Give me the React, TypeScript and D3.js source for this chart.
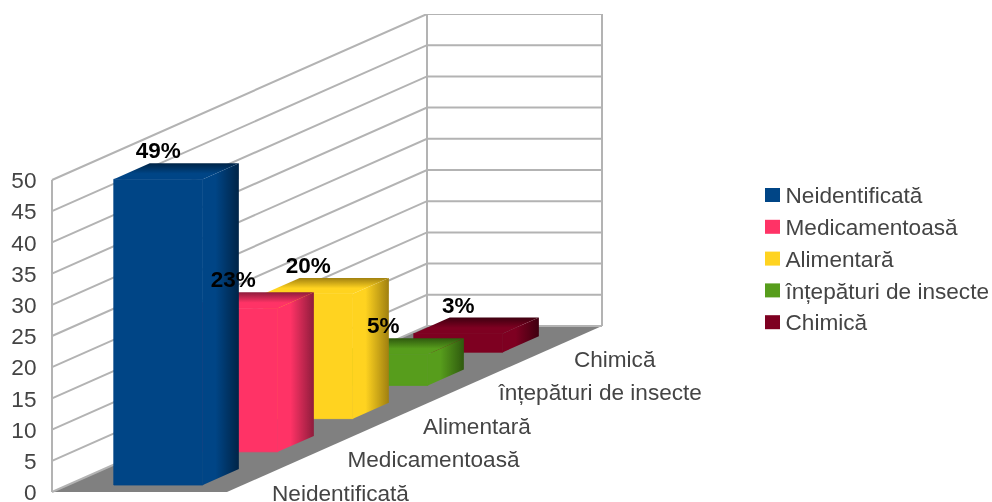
import React from "react";
import * as d3 from "d3";

const categories = ["Neidentificată", "Medicamentoasă", "Alimentară", "înțepături de insecte", "Chimică"];
const values = [49, 23, 20, 5, 3];
const valueLabels = ["49%", "23%", "20%", "5%", "3%"];
const colors = ["#004586", "#ff3366", "#ffd320", "#579d1c", "#7e0021"];
const sideDark = ["#002447", "#8f1c3c", "#a08010", "#2f5a0e", "#3f0010"];
const yTicks = [0, 5, 10, 15, 20, 25, 30, 35, 40, 45, 50];

const W = 992, H = 502;
const FONT = "'Liberation Sans', Arial, sans-serif";
const TEXT = "#444444";
const GRID = "#b3b3b3";

// Oblique projection: x across (0..1), depth (0..1), value
const originX = 52, originY = 492;
const xAcross = d3.scaleLinear().domain([0, 1]).range([0, 175]);
const depthX = d3.scaleLinear().domain([0, 1]).range([0, 375]);
const depthY = d3.scaleLinear().domain([0, 1]).range([0, -166]);
const yValue = d3.scaleLinear().domain([0, 50]).range([0, -312]);
const depthBand = d3.scaleBand<string>().domain(categories).range([-0.01, 0.99]).paddingInner(0.52).paddingOuter(0.26);
const labelDepth = d3.scalePoint<string>().domain(categories).range([0, 0.805]);
const acrossStart = 0.263, acrossEnd = 0.772;

const P = (a: number, d: number, v: number): [number, number] => [
  originX + xAcross(a) + depthX(d),
  originY + depthY(d) + yValue(v),
];
const poly = d3.line();
const path = (pts: [number, number][]) => poly(pts)! + "Z";

export default function App() {
  const order = categories.map((_, i) => i).reverse();
  return (
    <svg width={W} height={H} style={{ position: "absolute", left: 0, top: 0, background: "#fff" }} fontFamily={FONT}>
      <defs>
        <filter id="soft" x="0" y="0" width="1" height="1" filterUnits="objectBoundingBox" colorInterpolationFilters="sRGB">
          <feGaussianBlur stdDeviation="0.45" />
        </filter>
        {colors.map((c, i) => (
          <React.Fragment key={i}>
            <linearGradient id={`side${i}`} x1="0" x2="1" y1="0" y2="0">
              <stop offset="0" stopColor={c} />
              <stop offset="0.35" stopColor={c} />
              <stop offset="1" stopColor={sideDark[i]} />
            </linearGradient>
            <linearGradient id={`top${i}`} x1="0" x2="0" y1="1" y2="0">
              <stop offset="0" stopColor={c} />
              <stop offset="0.35" stopColor={c} />
              <stop offset="1" stopColor={sideDark[i]} />
            </linearGradient>
          </React.Fragment>
        ))}
      </defs>

      <rect width={W} height={H} fill="#fff" />
      <g filter="url(#soft)">
        {/* floor */}
        <path d={path([P(0, 0, 0), P(0, 1, 0), P(1, 1, 0), P(1, 0, 0)])} fill="#808080" />

        {/* walls and grid */}
        {yTicks.map((t) => (
          <path key={t} d={poly([P(0, 0, t), P(0, 1, t), P(1, 1, t)])!} fill="none" stroke={GRID} strokeWidth={2} />
        ))}
        <path d={poly([P(0, 0, 0), P(0, 0, 50)])!} stroke={GRID} strokeWidth={2} fill="none" />
        <path d={poly([P(0, 1, 0), P(0, 1, 50)])!} stroke={GRID} strokeWidth={2} fill="none" />
        <path d={poly([P(1, 1, 0), P(1, 1, 50)])!} stroke={GRID} strokeWidth={2} fill="none" />

        {/* bars back to front */}
        {order.map((i) => {
          const d0 = depthBand(categories[i])!;
          const d1 = d0 + depthBand.bandwidth();
          const v = values[i];
          return (
            <g key={i}>
              <path d={path([P(acrossStart, d0, v), P(acrossStart, d1, v), P(acrossEnd, d1, v), P(acrossEnd, d0, v)])} fill={`url(#top${i})`} />
              <path d={path([P(acrossEnd, d0, 0), P(acrossEnd, d1, 0), P(acrossEnd, d1, v), P(acrossEnd, d0, v)])} fill={`url(#side${i})`} />
              <path d={path([P(acrossStart, d0, 0), P(acrossEnd, d0, 0), P(acrossEnd, d0, v), P(acrossStart, d0, v)])} fill={colors[i]} stroke={colors[i]} strokeWidth={0.8} />
            </g>
          );
        })}

        {/* data labels */}
        {order.map((i) => {
          const d0 = depthBand(categories[i])!;
          const [x, y] = P((acrossStart + acrossEnd) / 2, d0, values[i]);
          return (
            <text key={i} x={x} y={y - 21} textAnchor="middle" fontSize={22.5} fontWeight="bold" fill="#000">
              {valueLabels[i]}
            </text>
          );
        })}

        {/* value axis */}
        {yTicks.map((t) => {
          const [x, y] = P(0, 0, t);
          return (
            <text key={t} x={x - 15.5} y={y} dy="0.36em" textAnchor="end" fontSize={22.6} fill={TEXT}>
              {t}
            </text>
          );
        })}

        {/* category labels */}
        {categories.map((c) => {
          const [x, y] = P(1, labelDepth(c)!, 0);
          return (
            <text key={c} x={x + 45} y={y + 0.5} dy="0.36em" fontSize={22.6} fill={TEXT}>
              {c}
            </text>
          );
        })}

        {/* legend */}
        {categories.map((c, i) => {
          const y = 195 + i * 31.8;
          return (
            <g key={c}>
              <rect x={765} y={y - 7} width={15} height={14} fill={colors[i]} />
              <text x={785.5} y={y} dy="0.36em" fontSize={22.6} fill={TEXT}>
                {c}
              </text>
            </g>
          );
        })}
      </g>
    </svg>
  );
}
